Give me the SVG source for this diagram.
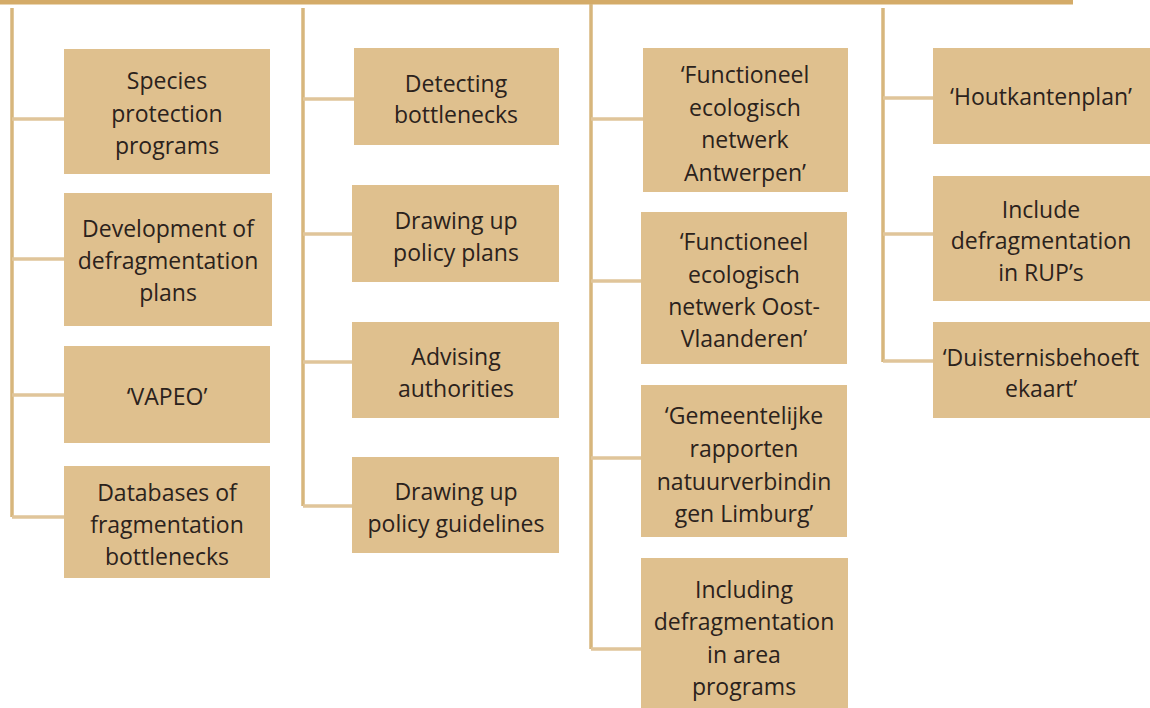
<svg xmlns="http://www.w3.org/2000/svg" width="1150" height="708" viewBox="0 0 1150 708">
<style>
.bar{fill:#d4ab68}
.box{fill:#dfc08e}
.v{stroke:#d7b67c;stroke-width:3.5;fill:none}
.h{stroke:#e0c59a;stroke-width:3.5;fill:none}
text{font-family:"Open Sans","Liberation Sans",sans-serif;font-size:23px;fill:#2b221c;text-anchor:middle}
</style>
<rect width="1150" height="708" fill="#ffffff"/>
<rect class="bar" x="0" y="0" width="1073" height="4.5"/>
<g id="connectors">
<path class="v" d="M12 8V517"/>
<path class="h" d="M12 119H64M12 259H64M12 395H64M12 517H64"/>
<path class="v" d="M303 8V506"/>
<path class="h" d="M303 99H354M303 234H352M303 362H352M303 506H352"/>
<path class="v" d="M591 4V649"/>
<path class="h" d="M591 119H643M591 281H641M591 458H641M591 649H641"/>
<path class="v" d="M883 8V362"/>
<path class="h" d="M883 98H933M883 234H933M883 361H933"/>
</g>
<g id="n1"><rect class="box" x="64" y="49" width="206" height="125"/><text x="167" y="89">Species</text><text x="167" y="122">protection</text><text x="167" y="154">programs</text></g>
<g id="n2"><rect class="box" x="64" y="193" width="208" height="133"/><text x="168" y="237">Development of</text><text x="168" y="269">defragmentation</text><text x="168" y="301">plans</text></g>
<g id="n3"><rect class="box" x="64" y="346" width="206" height="97"/><text x="167" y="405">‘VAPEO’</text></g>
<g id="n4"><rect class="box" x="64" y="466" width="206" height="112"/><text x="167" y="501">Databases of</text><text x="167" y="533">fragmentation</text><text x="167" y="565">bottlenecks</text></g>
<g id="n5"><rect class="box" x="354" y="48" width="205" height="97"/><text x="456" y="92">Detecting</text><text x="456" y="123">bottlenecks</text></g>
<g id="n6"><rect class="box" x="352" y="185" width="207" height="97"/><text x="456" y="229">Drawing up</text><text x="456" y="261">policy plans</text></g>
<g id="n7"><rect class="box" x="352" y="322" width="207" height="96"/><text x="456" y="365">Advising</text><text x="456" y="397">authorities</text></g>
<g id="n8"><rect class="box" x="352" y="457" width="207" height="96"/><text x="456" y="500">Drawing up</text><text x="456" y="532">policy guidelines</text></g>
<g id="n9"><rect class="box" x="643" y="48" width="205" height="144"/><text x="745" y="83">‘Functioneel</text><text x="745" y="116">ecologisch</text><text x="745" y="148">netwerk</text><text x="745" y="181">Antwerpen’</text></g>
<g id="n10"><rect class="box" x="641" y="212" width="206" height="152"/><text x="744" y="250">‘Functioneel</text><text x="744" y="283">ecologisch</text><text x="744" y="315">netwerk Oost-</text><text x="744" y="347">Vlaanderen’</text></g>
<g id="n11"><rect class="box" x="641" y="385" width="206" height="152"/><text x="744" y="424">‘Gemeentelijke</text><text x="744" y="457">rapporten</text><text x="744" y="490">natuurverbindin</text><text x="744" y="522">gen Limburg’</text></g>
<g id="n12"><rect class="box" x="641" y="558" width="207" height="150"/><text x="744" y="598">Including</text><text x="744" y="630">defragmentation</text><text x="744" y="663">in area</text><text x="744" y="695">programs</text></g>
<g id="n13"><rect class="box" x="933" y="48" width="217" height="96"/><text x="1041" y="105">‘Houtkantenplan’</text></g>
<g id="n14"><rect class="box" x="933" y="176" width="217" height="125"/><text x="1041" y="218">Include</text><text x="1041" y="249">defragmentation</text><text x="1041" y="281">in RUP’s</text></g>
<g id="n15"><rect class="box" x="933" y="322" width="217" height="96"/><text x="1041" y="366">‘Duisternisbehoeft</text><text x="1041" y="397">ekaart’</text></g>
</svg>
